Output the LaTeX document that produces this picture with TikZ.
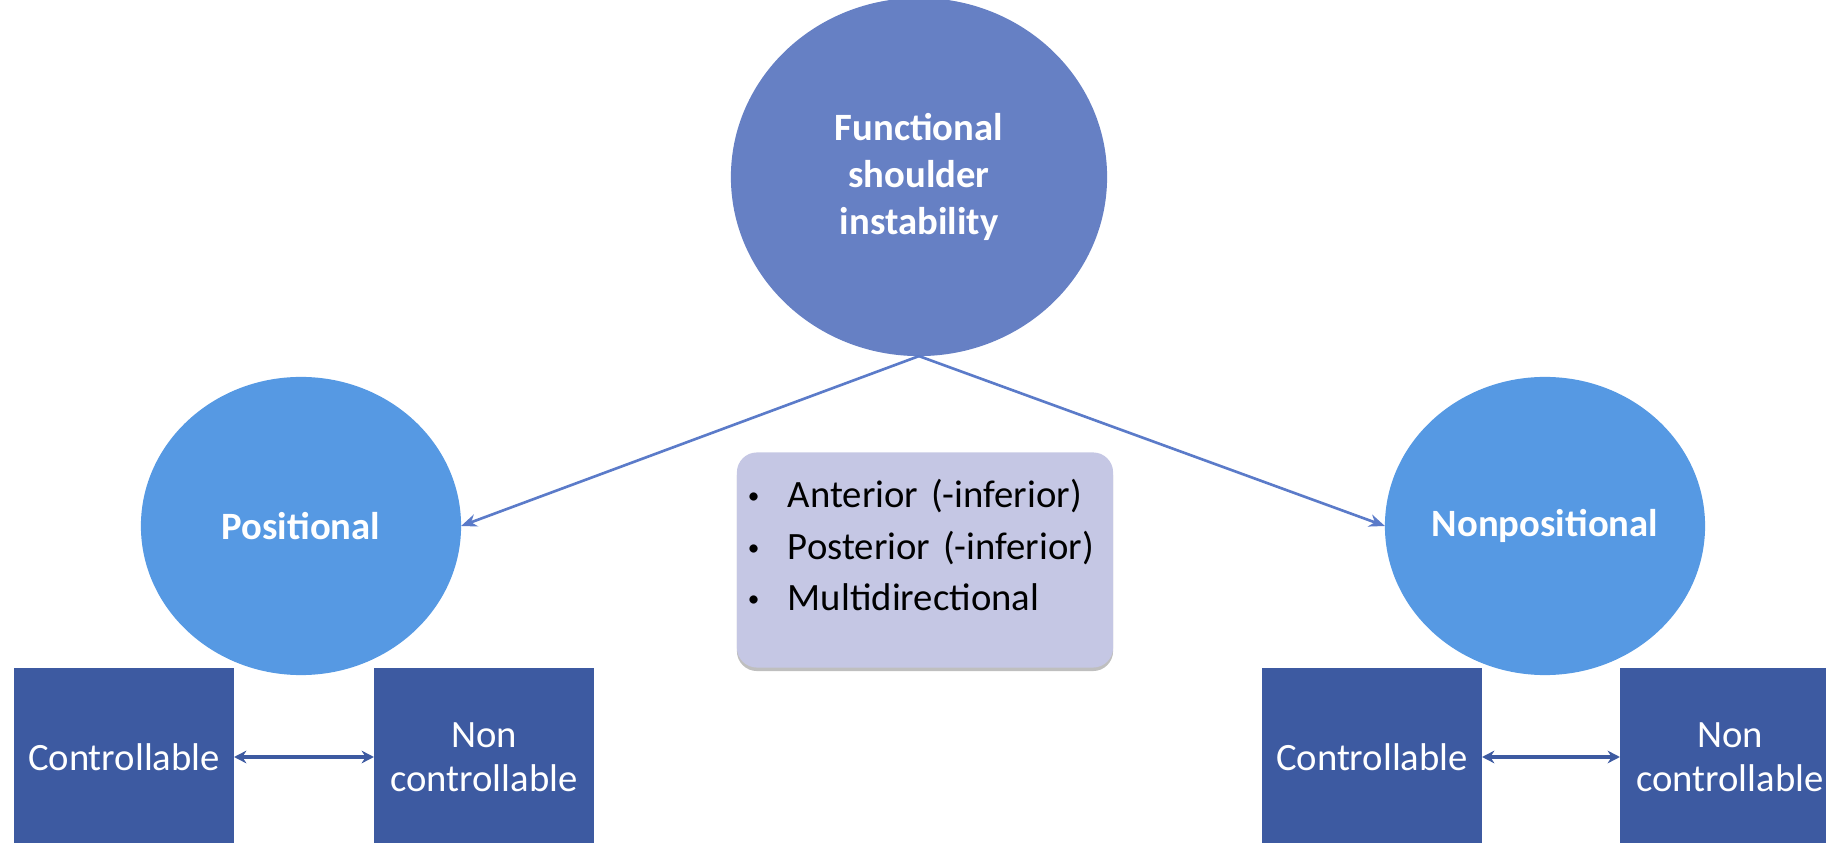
\documentclass[tikz,border=0pt]{standalone}
\usepackage{fontspec}
\setmainfont{Carlito}
\usetikzlibrary{positioning,shapes.geometric,arrows.meta,shadows}

\definecolor{topblue}{HTML}{6680C4}
\definecolor{sideblue}{HTML}{5699E3}
\definecolor{boxblue}{HTML}{3D5AA1}
\definecolor{lilac}{HTML}{C5C7E4}
\definecolor{linkblue}{HTML}{5B7BC9}

\newcommand{\dotitem}{\makebox[0.4cm][l]{\raisebox{0.04cm}{\scalebox{0.6}{\textbullet}}}}

\tikzset{
  circ/.style={ellipse, fill=#1, text=white, align=center, inner sep=0pt, outer sep=0pt,
    font=\bfseries\fontsize{11}{13.4}\selectfont},
  kind/.style={rectangle, fill=boxblue, text=white, align=center, inner sep=0pt, outer sep=0pt,
    minimum width=2.2cm, minimum height=1.78cm, font=\fontsize{11}{12.5}\selectfont},
  listbox/.style={rectangle, rounded corners=0.2cm, fill=lilac, align=left, outer sep=0pt,
    minimum width=3.76cm, minimum height=2.15cm, text width=3.54cm, inner xsep=0.11cm,
    font=\fontsize{11}{14.65}\selectfont,
    drop shadow={shadow xshift=0pt, shadow yshift=-0.035cm, opacity=0.25, fill=black}},
  link/.style={-{Stealth[length=4.5pt,width=3.6pt]}, line width=0.75pt, linkblue},
  both/.style={{Stealth[length=3.5pt,width=3.6pt]}-{Stealth[length=3.5pt,width=3.6pt]}, line width=0.9pt, boxblue}
}

\begin{document}
\begin{tikzpicture}[x=0.01cm, y=-0.01cm]
\useasboundingbox (0,0) rectangle (1826,843);
\clip (0,0) rectangle (1826,843);

\node[circ=topblue, minimum width=3.76cm, minimum height=3.58cm] (fsi) at (919,177) {Functional\\shoulder\\instability};
\node[circ=sideblue, minimum width=3.2cm, minimum height=2.98cm] (pos) at (301,526) {Positional};
\node[circ=sideblue, minimum width=3.2cm, minimum height=2.98cm] (nonpos) at (1545,526) {Nonpositional};

\node[listbox] (types) at (925,560) {\dotitem Anterior (-inferior)\\
  \dotitem Posterior (-inferior)\\
  \dotitem Multidirectional\\[-0.22cm]\mbox{}};

\node[kind] (lctrl) at (124,757) {Controllable};
\node[kind] (lnon) at (484,757) {Non\\controllable};
\node[kind] (rctrl) at (1372,757) {Controllable};
\node[kind] (rnon) at (1730,757) {Non\\controllable};

\draw[link] (fsi.south) -- (pos.east);
\draw[link] (fsi.south) -- (nonpos.west);
\draw[both] (lctrl) -- (lnon);
\draw[both] (rctrl) -- (rnon);

\end{tikzpicture}
\end{document}
